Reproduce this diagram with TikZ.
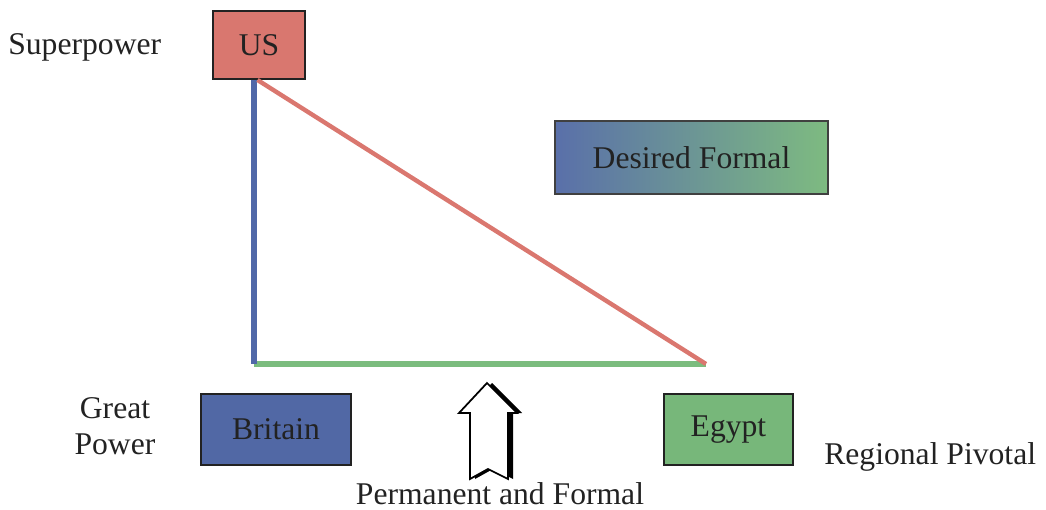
\documentclass[tikz,border=0pt]{standalone}
\usepackage{fontspec}
\setmainfont{Liberation Serif}
\usepackage{tikz}

\definecolor{usred}{HTML}{D9776F}
\definecolor{gbblue}{HTML}{5168A5}
\definecolor{egyptgreen}{HTML}{77B77A}
\definecolor{linegreen}{HTML}{7BBC7E}
\definecolor{lineblue}{HTML}{5068A8}
\definecolor{linered}{HTML}{DA776F}
\definecolor{inkgray}{HTML}{222222}

\begin{document}
\begin{tikzpicture}[x=0.02cm,y=-0.02cm,
	every node/.style={font=\fontsize{18}{20.5}\selectfont,text=inkgray},
	power/.style={draw=inkgray,line width=1.5pt,inner sep=0pt,align=center},
	label/.style={inner sep=0pt,align=center}]
	\useasboundingbox (0,0) rectangle (1046,510);
	% country boxes
	\node[power,fill=usred,minimum width=1.84cm,minimum height=1.36cm] (us) at (259,45) {US};
	\node[power,fill=gbblue,minimum width=3.0cm,minimum height=1.42cm] (britain) at (276,429.5) {Britain};
	\node[power,fill=egyptgreen,minimum width=2.58cm,minimum height=1.42cm] (egypt) at (728.5,429.5) {Egypt};
	\node[power,draw=black!75,left color=gbblue!95!white,right color=egyptgreen!95!white,minimum width=5.46cm,minimum height=1.46cm] (desired) at (691.5,157.5) {Desired Formal};
	% ranks
	\node[label,anchor=west] (super) at (8,47) {Superpower};
	\node[label] (great) at (115,426) {Great\\Power};
	\node[label,anchor=west] (regional) at (824,457) {Regional Pivotal};
	\node[label] (permanent) at (500,494) {Permanent and Formal};
	% triangle
	\coordinate (top) at (254,80);
	\coordinate (corner) at (254,364);
	\coordinate (pivot) at (706,364);
	\draw[linegreen,line width=2.9pt] (corner) -- (pivot);
	\draw[lineblue,line width=2.9pt] (top) -- (corner);
	\draw[linered,line width=2.5pt] ([xshift=2]top) -- (pivot);
	% hollow arrow
	\fill[black] (492,383) -- (522,413) -- (513,413) -- (513,479) -- (493,469) -- (475,479) -- (475,413) -- (464,413) -- cycle;
	\draw[black,fill=white,line width=1pt,line join=miter] (487,383) -- (517,413) -- (508,413) -- (508,479) -- (488,469) -- (470,479) -- (470,413) -- (459,413) -- cycle;
\end{tikzpicture}
\end{document}
